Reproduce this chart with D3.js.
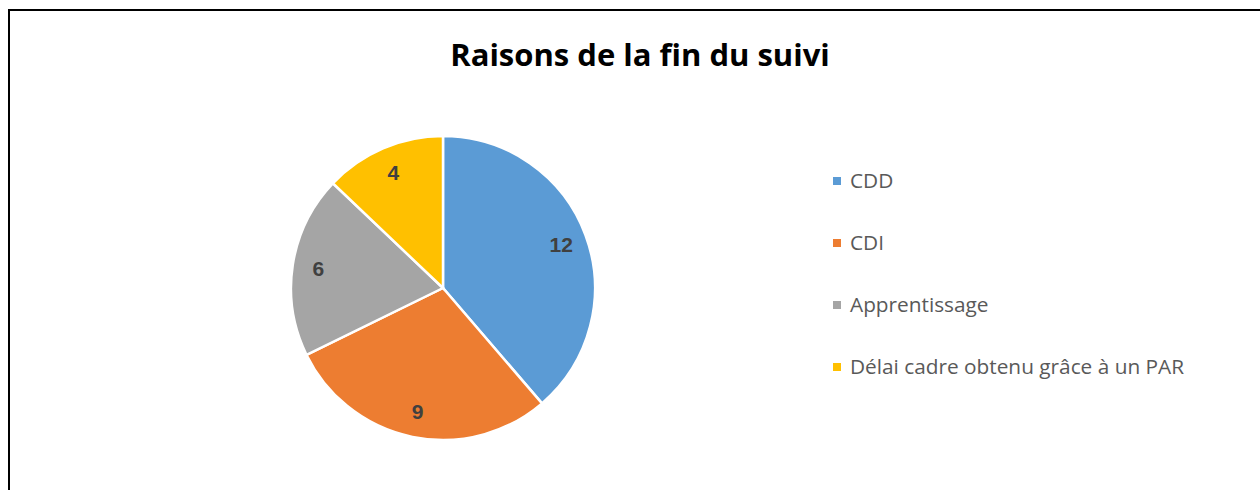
<!DOCTYPE html>
<html>
<head>
<meta charset="utf-8">
<script src="https://cdn.jsdelivr.net/npm/d3@7"></script>
<style>
  body { margin: 0; background: #fff; }
</style>
</head>
<body>
<div id="chart"></div>
<script>
var categories = ["CDD", "CDI", "Apprentissage", "Délai cadre obtenu grâce à un PAR"];
var values = [12, 9, 6, 4];
var colors = ["#5B9BD5", "#ED7D31", "#A5A5A5", "#FFC000"];
var title = "Raisons de la fin du suivi";

var width = 1260, height = 490;

var svg = d3.select("#chart").append("svg")
    .attr("width", width)
    .attr("height", height);

svg.append("rect")
    .attr("x", 9).attr("y", 10)
    .attr("width", 1270).attr("height", 500)
    .style("fill", "#fff")
    .style("stroke", "#000")
    .style("stroke-width", 2);

svg.append("text")
    .attr("x", 640).attr("y", 66)
    .attr("text-anchor", "middle")
    .style("font-family", "'Open Sans', 'Liberation Sans', sans-serif")
    .style("font-weight", "bold")
    .style("font-size", "31px")
    .style("fill", "#000")
    .text(title);

var radius = 152;
var pieG = svg.append("g")
    .attr("transform", "translate(443,288)");

var pie = d3.pie().sort(null).value(function(d) { return d; });
var arc = d3.arc().innerRadius(0).outerRadius(radius);
var labelArc = d3.arc().innerRadius(126).outerRadius(126);

var arcs = pie(values);

pieG.selectAll("path")
    .data(arcs)
    .enter().append("path")
    .attr("d", arc)
    .style("fill", function(d, i) { return colors[i]; })
    .style("stroke", "#fff")
    .style("stroke-width", 2.5);

pieG.selectAll("text")
    .data(arcs)
    .enter().append("text")
    .attr("transform", function(d) { return "translate(" + labelArc.centroid(d) + ")"; })
    .attr("text-anchor", "middle")
    .attr("dy", "0.36em")
    .style("font-family", "'Liberation Sans', Arial, sans-serif")
    .style("font-weight", "bold")
    .style("font-size", "21px")
    .style("fill", "#404040")
    .text(function(d) { return d.data; });

// legend
var legendY = d3.scalePoint().domain(categories).range([181, 367]);

var legend = svg.selectAll(".legend")
    .data(categories)
    .enter().append("g")
    .attr("class", "legend")
    .attr("transform", function(d) { return "translate(833," + legendY(d) + ")"; });

legend.append("rect")
    .attr("x", 0).attr("y", -4)
    .attr("width", 8).attr("height", 8)
    .style("fill", function(d, i) { return colors[i]; });

legend.append("text")
    .attr("x", 17).attr("dy", "0.35em")
    .style("font-family", "'Open Sans', 'Liberation Sans', sans-serif")
    .style("font-size", "20.8px")
    .style("fill", "#595959")
    .text(function(d) { return d; });
</script>
</body>
</html>
